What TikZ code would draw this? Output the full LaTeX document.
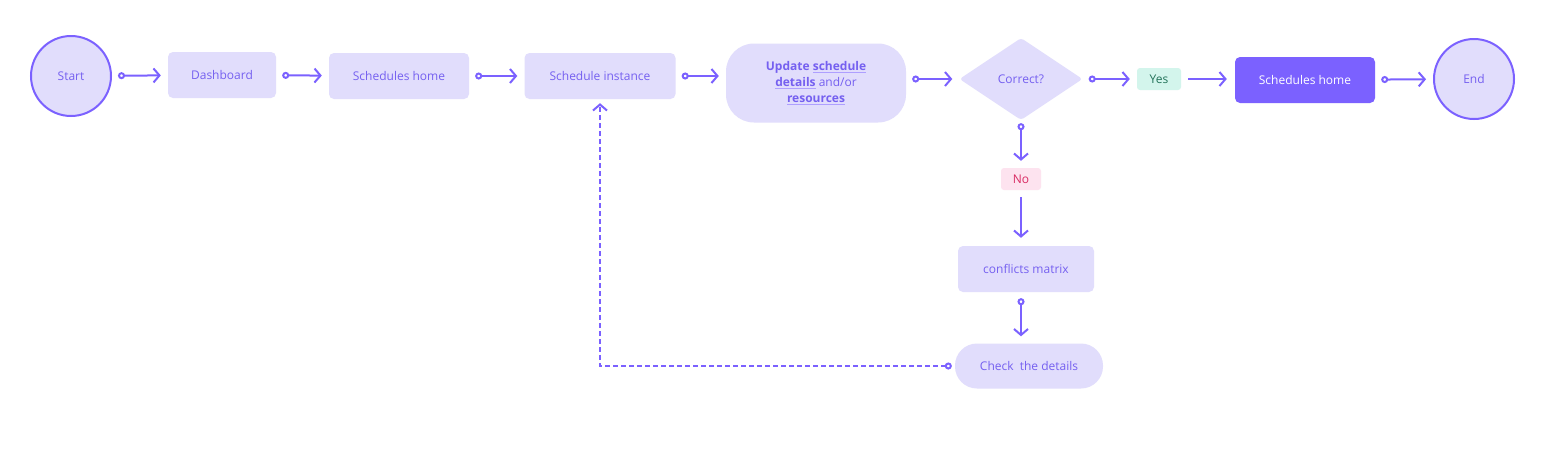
\documentclass[tikz,border=0pt]{standalone}
\usepackage{fontspec}
\setmainfont{Open Sans}
\usetikzlibrary{arrows.meta,shapes.geometric}

\definecolor{flowline}{HTML}{7B61FF}
\definecolor{flowfill}{HTML}{E1DDFC}
\definecolor{flowtext}{HTML}{7560F0}
\definecolor{linkline}{HTML}{AE9FFF}
\definecolor{yesfill}{HTML}{D3F5EC}
\definecolor{yestext}{HTML}{23735A}
\definecolor{nofill}{HTML}{FDE3EF}
\definecolor{notext}{HTML}{D92B63}

% bold underlined word
\newcommand{\ulword}[1]{\setbox0\hbox{\bfseries #1}\rlap{\color{linkline}\rule[-3pt]{\wd0}{1.2pt}}\box0\relax}

\begin{document}
\begin{tikzpicture}[x=1pt,y=-1pt]

\useasboundingbox[fill=white] (0,0) rectangle (1561,448);

\tikzstyle{every node}=[font=\fontsize{12}{15}\selectfont,text=flowtext,inner sep=0pt];
\tikzstyle{stepbox}=[fill=flowfill,rounded corners=5pt,minimum height=46pt];
\tikzstyle{terminal}=[circle,draw=flowline,line width=2pt,fill=flowfill,minimum size=80pt];
\tikzstyle{tag}=[rounded corners=3pt,minimum height=22pt];
\tikzstyle{link}=[draw=flowline,line width=2pt,{Circle[open,length=7pt,width=7pt]}-{Straight Barb[length=6pt,width=14pt]},shorten <=6pt,shorten >=7pt];
\tikzstyle{plainlink}=[draw=flowline,line width=2pt,-{Straight Barb[length=6pt,width=14pt]},shorten <=7pt,shorten >=8pt];

% Draw the main row
\node[terminal] (start) at (71,76) {Start};
\node[stepbox,minimum width=108pt] (dash) at (222,75) {Dashboard};
\node[stepbox,minimum width=140pt] (home) at (399,76) {Schedules home};
\node[stepbox,minimum width=151pt] (inst) at (600,76) {Schedule instance};
\node[stepbox,minimum width=180pt,minimum height=79pt,rounded corners=28pt,align=center] (update) at (816,83)
  {\textbf{Update} \ulword{schedule}\\[1pt] \ulword{details} and/or\\[1pt] \ulword{resources}};
\node[diamond,fill=flowfill,rounded corners=3pt,minimum width=123pt,minimum height=82pt] (correct) at (1021,79) {Correct?};
\node[tag,fill=yesfill,text=yestext,minimum width=44pt] (yes) at (1159,79) {Yes};
\node[stepbox,fill=flowline,text=white,minimum width=140pt] (done) at (1305,80) {Schedules home};
\node[terminal] (end) at (1474,79) {End};

% Draw the "No" branch
\node[tag,fill=nofill,text=notext,minimum width=40pt] (no) at (1021,179) {No};
\node[stepbox,minimum width=136pt] (conflicts) at (1026,269) {conflicts matrix};
\node[stepbox,minimum width=148pt,minimum height=45pt,rounded corners=22pt] (check) at (1029,366) {Check\ \ the details};

% Links between the nodes
\draw[link] (start) -- (dash);
\draw[link] (dash) -- (home);
\draw[link] (home) -- (inst);
\draw[link] (inst.east) -- (inst.east -| update.west);
\draw[link] (update.east |- correct.west) -- (correct.west);
\draw[link] (correct) -- (yes);
\draw[plainlink] (yes) -- (done.west |- yes);
\draw[link] (done) -- (end);
\draw[link,shorten <=3pt] (correct.south) -- (no.north);
\draw[plainlink] (no.south) -- (no.south |- conflicts.north);
\draw[link] (conflicts.south -| no) -- (check.north -| no);

% Back to the schedule instance
\draw[link,dashed,dash pattern=on 5pt off 3pt,shorten <=3pt,shorten >=4pt] (check.west) -| (inst.south);

\end{tikzpicture}
\end{document}
